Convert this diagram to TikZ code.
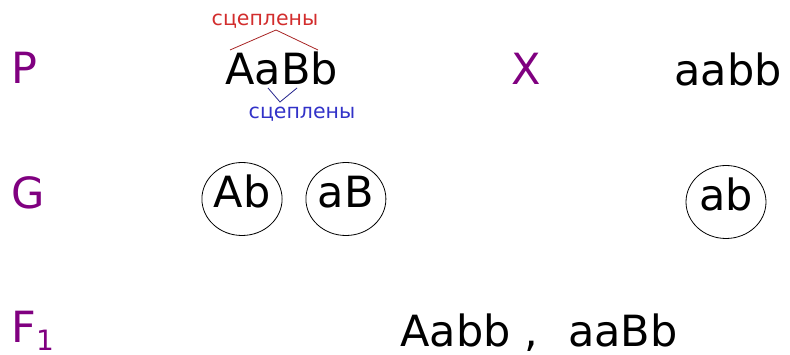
\documentclass[tikz,border=0pt]{standalone}
\usepackage{fontspec}
\setmainfont{DejaVu Sans}
\usetikzlibrary{positioning,shapes.geometric}
\definecolor{gen}{RGB}{128,0,128}
\definecolor{linkred}{RGB}{210,45,45}
\definecolor{linkblue}{RGB}{50,50,200}

\begin{document}
\begin{tikzpicture}[x=1pt, y=-1pt, node distance=23pt, line width=0.8pt]
	\tikzstyle{txt}=[inner sep=0pt, anchor=base west, font=\fontsize{43}{50}\selectfont]
	\tikzstyle{lbl}=[txt, text=gen]
	\tikzstyle{gam}=[draw, ellipse, inner sep=0pt, minimum width=80pt, minimum height=73pt, text height=32pt, text depth=15pt, font=\fontsize{43}{50}\selectfont]
	\tikzstyle{link}=[inner sep=0pt, anchor=base, font=\fontsize{20.5}{24}\selectfont]
	\useasboundingbox (0,0) rectangle (790,355);
	\node[lbl] (rowP) at (11,84) {P};
	\node[lbl] (rowG) at (11,209) {G};
	\node[lbl] (rowF) at (11,343) {F{\fontsize{28}{30}\selectfont\raisebox{-8pt}{1}}};
	\node[txt] (mother) at (225,85) {AaBb};
	\node[lbl] (cross) at (511,85) {X};
	\node[txt] (father) at (674,86) {aabb};
	\node[link, text=linkred] (linkA) at (265,26) {сцеплены};
	\node[link, text=linkblue] (linkB) at (302,119) {сцеплены};
	\coordinate (rL) at (230,50);
	\coordinate (rTop) at (276,30);
	\coordinate (rR) at (318,50);
	\coordinate (bL) at (268,88);
	\coordinate (bBot) at (280,102);
	\coordinate (bR) at (297,88);
	\draw[linkred!80!black] (rL) -- (rTop) -- (rR);
	\draw[linkblue!70!black] (bL) -- (bBot) -- (bR);
	\node[gam] (gAb) at (242,199) {Ab};
	\node[gam, right=23pt of gAb] (gaB) {aB};
	\node[gam] (gab) at (726,202) {ab};
	\node[txt] (offspring) at (400,346) {Aabb ,\hspace{30pt}aaBb};
\end{tikzpicture}
\end{document}
